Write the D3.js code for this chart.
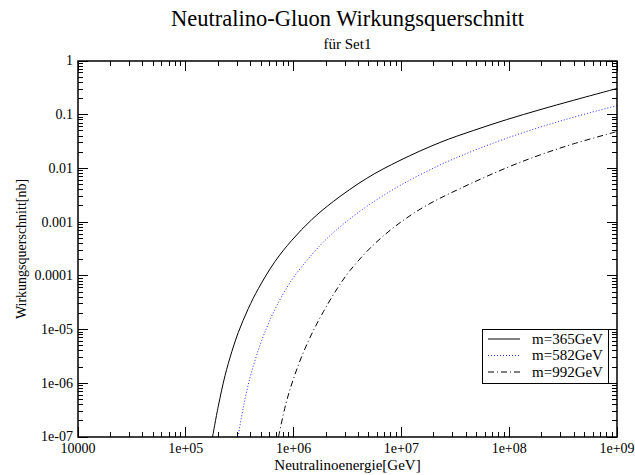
<!DOCTYPE html>
<html><head><meta charset="utf-8">
<script src="https://cdn.jsdelivr.net/npm/d3@7"></script>
<style>body{margin:0;background:#fff}svg{display:block}text{font-family:"Liberation Serif","Times New Roman",serif;fill:#000}</style>
</head><body>
<script>
const title = "Neutralino-Gluon Wirkungsquerschnitt";
const subtitle = "für Set1";
const xLabel = "Neutralinoenergie[GeV]";
const yLabel = "Wirkungsquerschnitt[nb]";
const xTicks = [1e4, 1e5, 1e6, 1e7, 1e8, 1e9];
const xTickLabels = ["10000", "1e+05", "1e+06", "1e+07", "1e+08", "1e+09"];
const yTicks = [1, 0.1, 0.01, 0.001, 0.0001, 1e-5, 1e-6, 1e-7];
const yTickLabels = ["1", "0.1", "0.01", "0.001", "0.0001", "1e-05", "1e-06", "1e-07"];
const seriesNames = ["m=365GeV", "m=582GeV", "m=992GeV"];
const energy365 = [1.77e5, 2.00e5, 2.31e5, 2.67e5, 3.07e5, 3.80e5, 4.71e5, 6.72e5, 9.60e5, 1.47e6, 2.34e6, 4.77e6, 9.70e6, 2.28e7, 4.65e7, 9.48e7, 1.93e8, 3.93e8, 1e9];
const sigma365  = [1e-7, 3.72e-7, 1.38e-6, 3.86e-6, 8.87e-6, 2.46e-5, 5.78e-5, 1.85e-4, 4.56e-4, 1.11e-3, 2.43e-3, 6.55e-3, 1.41e-2, 3.04e-2, 5.08e-2, 8.11e-2, 0.124, 0.185, 0.308];
const energy582 = [3.05e5, 3.42e5, 3.94e5, 4.71e5, 5.63e5, 6.72e5, 8.32e5, 1.03e6, 1.76e6, 2.69e6, 4.77e6, 9.70e6, 2.28e7, 4.65e7, 9.48e7, 1.93e8, 3.93e8, 1e9];
const sigma582  = [1e-7, 3.62e-7, 1.27e-6, 4.15e-6, 1.09e-5, 2.38e-5, 5.28e-5, 1.02e-4, 3.68e-4, 8.17e-4, 1.96e-3, 4.80e-3, 1.16e-2, 2.13e-2, 3.65e-2, 5.85e-2, 8.95e-2, 0.148];
const energy992 = [7.24e5, 8.50e5, 9.94e5, 1.19e6, 1.47e6, 1.89e6, 2.53e6, 3.34e6, 5.49e6, 9.70e6, 1.72e7, 3.50e7, 9.48e7, 1.93e8, 3.93e8, 1e9];
const sigma992  = [1e-7, 4.23e-7, 1.19e-6, 3.16e-6, 8.24e-6, 2.15e-5, 5.73e-5, 1.26e-4, 3.75e-4, 9.75e-4, 2.06e-3, 4.22e-3, 1.03e-2, 1.78e-2, 2.86e-2, 4.86e-2];

const W = 635, H = 475;
const m = {left: 78, right: 617, top: 61, bottom: 437};
const svg = d3.select("body").append("svg").attr("width", W).attr("height", H);
const x = d3.scaleLog().domain([1e4, 1e9]).range([m.left, m.right]);
const y = d3.scaleLog().domain([1e-7, 1]).range([m.bottom, m.top]);

const minorX = [];
for (let e = 4; e < 9; e++) for (let k = 2; k <= 9; k++) minorX.push(k * Math.pow(10, e));
const minorY = [];
for (let e = -7; e < 0; e++) for (let k = 2; k <= 9; k++) minorY.push(k * Math.pow(10, e));

const g = svg.append("g").attr("stroke", "#000").attr("stroke-width", 1).attr("shape-rendering", "crispEdges");
const MAJ = 10, MIN = 5;
xTicks.forEach(v => {
  g.append("line").attr("x1", x(v)).attr("x2", x(v)).attr("y1", m.bottom).attr("y2", m.bottom - MAJ);
  g.append("line").attr("x1", x(v)).attr("x2", x(v)).attr("y1", m.top).attr("y2", m.top + MAJ);
});
minorX.forEach(v => {
  g.append("line").attr("x1", x(v)).attr("x2", x(v)).attr("y1", m.bottom).attr("y2", m.bottom - MIN);
  g.append("line").attr("x1", x(v)).attr("x2", x(v)).attr("y1", m.top).attr("y2", m.top + MIN);
});
yTicks.forEach(v => {
  g.append("line").attr("y1", y(v)).attr("y2", y(v)).attr("x1", m.left).attr("x2", m.left + MAJ);
  g.append("line").attr("y1", y(v)).attr("y2", y(v)).attr("x1", m.right).attr("x2", m.right - MAJ);
});
minorY.forEach(v => {
  g.append("line").attr("y1", y(v)).attr("y2", y(v)).attr("x1", m.left).attr("x2", m.left + MIN);
  g.append("line").attr("y1", y(v)).attr("y2", y(v)).attr("x1", m.right).attr("x2", m.right - MIN);
});

xTicks.forEach((v, i) => {
  svg.append("text").attr("x", x(v)).attr("y", m.bottom + 16).attr("text-anchor", "middle")
    .attr("font-size", 14).text(xTickLabels[i]);
});
yTicks.forEach((v, i) => {
  svg.append("text").attr("x", m.left - 5).attr("y", y(v)).attr("dy", "0.32em").attr("text-anchor", "end")
    .attr("font-size", 14).text(yTickLabels[i]);
});

const clipId = "plotclip";
svg.append("clipPath").attr("id", clipId).append("rect")
  .attr("x", m.left).attr("y", m.top).attr("width", m.right - m.left).attr("height", m.bottom - m.top);
const line = d3.line().x(d => x(d[0])).y(d => y(d[1])).curve(d3.curveCatmullRom.alpha(0.5));
const styles = [
  {color: "#000", dash: null},
  {color: "#2a2aff", dash: "1,2"},
  {color: "#000", dash: "6,3,1,3"}
];
const data = [
  energy365.map((e, i) => [e, sigma365[i]]),
  energy582.map((e, i) => [e, sigma582[i]]),
  energy992.map((e, i) => [e, sigma992[i]])
];
data.forEach((d, i) => {
  svg.append("path").attr("d", line(d)).attr("fill", "none").attr("clip-path", `url(#${clipId})`)
    .attr("stroke", styles[i].color).attr("stroke-width", 1)
    .attr("stroke-dasharray", styles[i].dash);
});

svg.append("rect").attr("x", m.left).attr("y", m.top).attr("width", m.right - m.left).attr("height", m.bottom - m.top)
  .attr("fill", "none").attr("stroke", "#000").attr("stroke-width", 1.5);

const lg = svg.append("g");
lg.append("rect").attr("x", 482.5).attr("y", 329.5).attr("width", 126).attr("height", 54)
  .attr("fill", "#fff").attr("stroke", "#000").attr("stroke-width", 1);
seriesNames.forEach((n, i) => {
  const yy = 339 + i * 16.5;
  lg.append("line").attr("x1", 488).attr("x2", 520).attr("y1", yy).attr("y2", yy)
    .attr("stroke", styles[i].color).attr("stroke-width", 1).attr("stroke-dasharray", styles[i].dash);
  lg.append("text").attr("x", 532).attr("y", yy).attr("dy", "0.32em").attr("font-size", 15).text(n);
});

const cx = (m.left + m.right) / 2;
svg.append("text").attr("x", cx).attr("y", 26).attr("text-anchor", "middle").attr("font-size", 22.5).text(title);
svg.append("text").attr("x", cx).attr("y", 49).attr("text-anchor", "middle").attr("font-size", 15).text(subtitle);
svg.append("text").attr("x", cx).attr("y", 470).attr("text-anchor", "middle").attr("font-size", 15).text(xLabel);
svg.append("text").attr("transform", `translate(26,${(m.top + m.bottom) / 2}) rotate(-90)`)
  .attr("text-anchor", "middle").attr("font-size", 14).text(yLabel);
</script>
</body></html>
